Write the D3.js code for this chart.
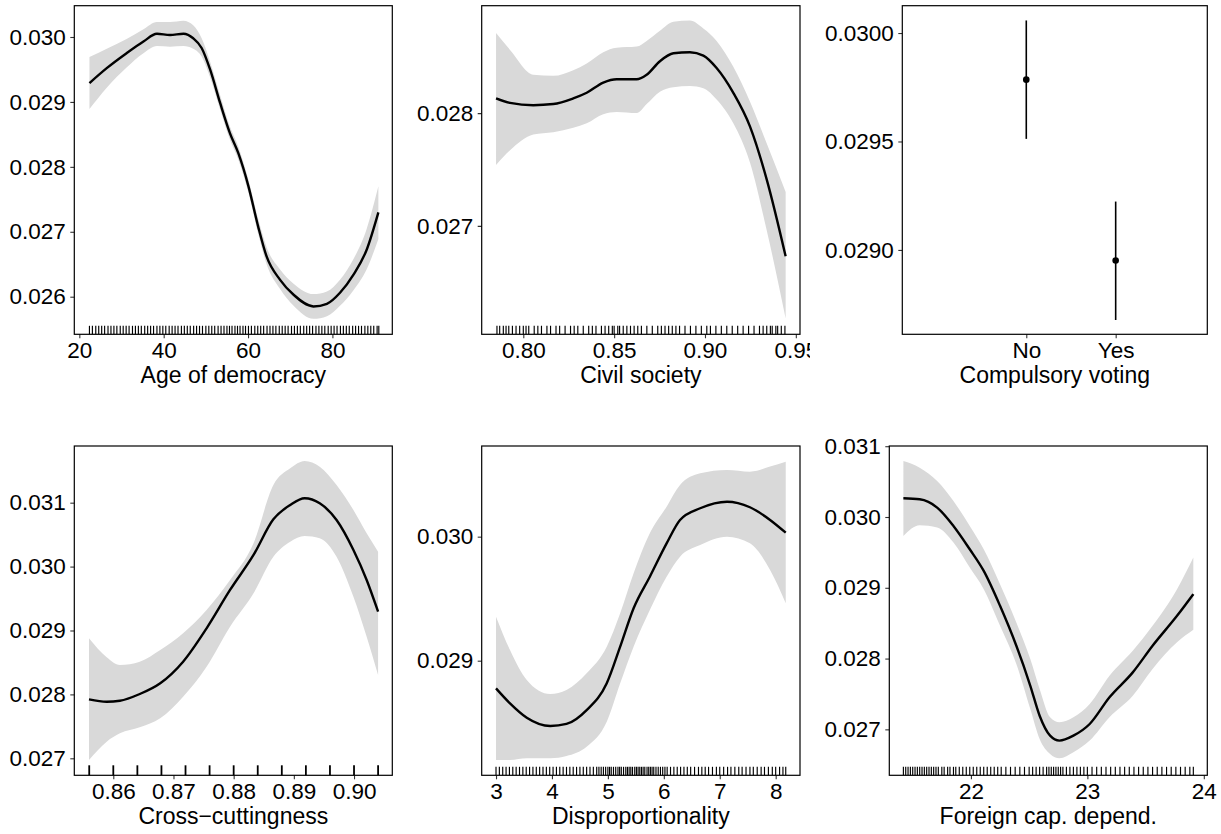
<!DOCTYPE html>
<html>
<head>
<meta charset="utf-8">
<script src="https://cdn.jsdelivr.net/npm/d3@7"></script>
<style>
  body { margin: 0; background: #fff; }
  svg text { font-family: "Liberation Sans", Arial, sans-serif; fill: #000; }
</style>
</head>
<body>
<svg id="chart" width="1221" height="834"></svg>
<script>
// Age of democracy
var ageX   = [22.4, 26.5, 31.2, 35.2, 38.4, 41.5, 44.7, 47.0, 49.0, 51.0, 53.4, 55.7, 57.7, 60.1, 62.4, 64.4, 67.6, 70.8, 75.5, 78.7, 81.8, 85.0, 88.1, 90.9];
var ageFit = [0.02929, 0.02952, 0.02975, 0.02993, 0.03005, 0.03003, 0.03005, 0.02998, 0.02983, 0.02950, 0.02898, 0.02852, 0.02821, 0.02770, 0.02708, 0.02662, 0.02626, 0.02603, 0.02585, 0.02589, 0.02606, 0.02634, 0.02672, 0.02730];
var ageLo  = [0.02889, 0.02922, 0.02953, 0.02975, 0.02986, 0.02985, 0.02986, 0.02982, 0.02970, 0.02938, 0.02888, 0.02842, 0.02811, 0.02760, 0.02697, 0.02650, 0.02612, 0.02586, 0.02566, 0.02570, 0.02586, 0.02610, 0.02642, 0.02689];
var ageHi  = [0.02969, 0.02982, 0.02997, 0.03012, 0.03023, 0.03023, 0.03025, 0.03018, 0.02998, 0.02962, 0.02910, 0.02862, 0.02831, 0.02780, 0.02720, 0.02676, 0.02642, 0.02620, 0.02604, 0.02608, 0.02626, 0.02658, 0.02704, 0.02770];
var ageRug = [22.4,23.1,23.9,24.6,25.3,26.0,26.8,27.5,28.2,28.9,29.7,30.4,31.1,31.8,32.6,33.3,34.0,34.7,35.5,36.2,36.9,37.6,38.4,39.1,39.8,40.5,41.3,42.0,42.7,43.4,44.2,44.9,45.6,46.3,47.1,47.8,48.5,49.2,50.0,50.7,51.4,52.1,52.9,53.6,54.3,55.0,55.6,56.2,56.9,57.5,58.1,58.8,59.4,60.1,60.8,61.6,62.3,63.0,63.7,64.5,65.2,65.9,66.6,67.4,68.1,68.8,69.5,70.3,71.0,71.7,72.4,73.2,73.9,74.6,75.3,76.1,76.8,77.5,78.2,79.0,79.7,80.4,81.1,81.9,82.6,83.3,84.0,84.8,85.5,86.2,86.9,87.7,88.4,89.1,89.8,90.6,91.0];
var ageTicksY = [0.026, 0.027, 0.028, 0.029, 0.030];
var ageTicksX = [20, 40, 60, 80];

// Civil society
var civX   = [0.785, 0.7927, 0.8055, 0.8165, 0.8275, 0.8349, 0.8440, 0.8514, 0.8624, 0.8679, 0.8752, 0.8826, 0.8917, 0.8991, 0.9064, 0.9156, 0.9248, 0.9340, 0.9444];
var civFit = [0.02813, 0.02809, 0.02807, 0.02808, 0.02813, 0.02818, 0.02827, 0.02830, 0.02830, 0.02834, 0.02846, 0.02853, 0.02854, 0.02851, 0.02840, 0.02818, 0.02788, 0.02741, 0.02673];
var civLo  = [0.02754, 0.02767, 0.02781, 0.02783, 0.02787, 0.02791, 0.02799, 0.02801, 0.02800, 0.02808, 0.02819, 0.02823, 0.02824, 0.02822, 0.02812, 0.02791, 0.02756, 0.02696, 0.02618];
var civHi  = [0.02871, 0.02856, 0.02834, 0.02833, 0.02838, 0.02844, 0.02854, 0.02858, 0.02859, 0.02864, 0.02873, 0.02881, 0.02882, 0.02875, 0.02864, 0.02841, 0.02810, 0.02773, 0.02730];
var civRug = [0.7855,0.787,0.789,0.7905,0.792,0.794,0.796,0.798,0.800,0.8015,0.803,0.806,0.808,0.810,0.813,0.815,0.818,0.820,0.823,0.826,0.828,0.830,0.833,0.836,0.838,0.840,0.843,0.845,0.847,0.849,0.850,0.852,0.853,0.855,0.857,0.859,0.861,0.863,0.865,0.868,0.871,0.874,0.876,0.878,0.880,0.882,0.884,0.886,0.889,0.892,0.895,0.898,0.901,0.903,0.906,0.909,0.912,0.915,0.918,0.921,0.924,0.927,0.930,0.932,0.934,0.936,0.937,0.939,0.940,0.942,0.944];
var civTicksY = [0.027, 0.028];
var civTicksX = [0.80, 0.85, 0.90, 0.95];

// Compulsory voting
var cvCats = ["No", "Yes"];
var cvFit  = [0.029785, 0.028951];
var cvLo   = [0.029512, 0.028677];
var cvHi   = [0.030058, 0.029223];
var cvTicksY = [0.0290, 0.0295, 0.0300];

// Cross-cuttingness
var crossX   = [0.85596, 0.8589, 0.8611, 0.8644, 0.8678, 0.8716, 0.8755, 0.8794, 0.8833, 0.8866, 0.8894, 0.8918, 0.8943, 0.8971, 0.8999, 0.9021, 0.9040];
var crossFit = [0.027923, 0.027886, 0.027901, 0.028006, 0.028174, 0.028512, 0.029034, 0.029634, 0.030182, 0.030740, 0.030964, 0.031069, 0.030990, 0.030729, 0.030260, 0.029790, 0.029294];
var crossLo  = [0.026973, 0.027260, 0.027391, 0.027485, 0.027626, 0.027964, 0.028434, 0.029059, 0.029582, 0.030155, 0.030390, 0.030479, 0.030443, 0.030155, 0.029529, 0.028903, 0.028303];
var crossHi  = [0.028878, 0.028581, 0.028460, 0.028512, 0.028695, 0.028956, 0.029321, 0.029790, 0.030365, 0.031277, 0.031538, 0.031653, 0.031563, 0.031277, 0.030886, 0.030521, 0.030233];
var crossRug = [0.856, 0.860, 0.864, 0.868, 0.872, 0.876, 0.880, 0.884, 0.888, 0.892, 0.896, 0.900, 0.904];
var crossTicksY = [0.027, 0.028, 0.029, 0.030, 0.031];
var crossTicksX = [0.86, 0.87, 0.88, 0.89, 0.90];

// Disproportionality
var dispX   = [3.0, 3.25, 3.55, 3.97, 4.26, 4.62, 4.98, 5.22, 5.46, 5.75, 6.05, 6.29, 6.65, 7.13, 7.54, 7.90, 8.18];
var dispFit = [0.028777, 0.028656, 0.028540, 0.028473, 0.028490, 0.028602, 0.028818, 0.029113, 0.029423, 0.029677, 0.029946, 0.030135, 0.030229, 0.030282, 0.030237, 0.030135, 0.030032];
var dispLo  = [0.028199, 0.028199, 0.028213, 0.028213, 0.028231, 0.028306, 0.028508, 0.028818, 0.029113, 0.029409, 0.029677, 0.029839, 0.029933, 0.030000, 0.029946, 0.029731, 0.029463];
var dispHi  = [0.029355, 0.029086, 0.028844, 0.028731, 0.028763, 0.028898, 0.029113, 0.029382, 0.029705, 0.030027, 0.030242, 0.030417, 0.030511, 0.030538, 0.030524, 0.030565, 0.030605];
var dispRug = [3.00,3.06,3.12,3.18,3.24,3.30,3.36,3.42,3.48,3.54,3.60,3.66,3.72,3.78,3.84,3.90,3.96,4.02,4.08,4.14,4.20,4.26,4.32,4.38,4.44,4.50,4.56,4.62,4.68,4.74,4.80,4.84,4.88,4.92,4.96,5.00,5.03,5.06,5.10,5.14,5.18,5.21,5.24,5.28,5.32,5.35,5.38,5.41,5.44,5.48,5.51,5.54,5.57,5.60,5.63,5.66,5.70,5.73,5.76,5.79,5.82,5.86,5.90,5.94,5.98,6.02,6.06,6.12,6.18,6.24,6.30,6.36,6.42,6.48,6.55,6.62,6.68,6.74,6.80,6.87,6.94,7.00,7.07,7.14,7.20,7.27,7.34,7.40,7.47,7.54,7.60,7.67,7.74,7.80,7.87,7.94,8.00,8.07,8.13,8.18];
var dispTicksY = [0.029, 0.030];
var dispTicksX = [3, 4, 5, 6, 7, 8];

// Foreign capital dependence
var fcdX   = [21.42, 21.56, 21.71, 21.85, 21.99, 22.11, 22.25, 22.39, 22.51, 22.59, 22.68, 22.76, 22.88, 23.02, 23.19, 23.39, 23.56, 23.77, 23.91];
var fcdFit = [0.030264, 0.030250, 0.030133, 0.029873, 0.029544, 0.029238, 0.028745, 0.028181, 0.027616, 0.027193, 0.026911, 0.026841, 0.026911, 0.027076, 0.027453, 0.027805, 0.028181, 0.028604, 0.028910];
var fcdLo  = [0.029732, 0.029883, 0.029850, 0.029639, 0.029286, 0.028980, 0.028463, 0.027922, 0.027288, 0.026865, 0.026653, 0.026592, 0.026677, 0.026841, 0.027171, 0.027475, 0.027852, 0.028229, 0.028406];
var fcdHi  = [0.030790, 0.030697, 0.030508, 0.030226, 0.029873, 0.029544, 0.029051, 0.028511, 0.027993, 0.027570, 0.027171, 0.027100, 0.027171, 0.027358, 0.027757, 0.028110, 0.028463, 0.028980, 0.029427];
var fcdRug = [21.42,21.44,21.46,21.48,21.50,21.52,21.54,21.56,21.58,21.60,21.62,21.64,21.66,21.68,21.70,21.72,21.75,21.77,21.80,21.82,21.85,21.87,21.90,21.93,21.96,21.99,22.02,22.05,22.08,22.11,22.14,22.17,22.20,22.23,22.26,22.30,22.34,22.38,22.42,22.46,22.50,22.53,22.56,22.59,22.62,22.65,22.67,22.69,22.71,22.73,22.75,22.77,22.79,22.82,22.85,22.88,22.91,22.94,22.97,23.00,23.04,23.08,23.12,23.16,23.20,23.24,23.28,23.32,23.36,23.40,23.44,23.48,23.52,23.56,23.60,23.64,23.68,23.72,23.76,23.80,23.84,23.88,23.91];
var fcdTicksY = [0.027, 0.028, 0.029, 0.030, 0.031];
var fcdTicksX = [22, 23, 24];

var svg = d3.select("#chart");
var FONT_TICK = 22.5, FONT_TITLE = 23;

function frame(p, x, y, g) {
    // y axis
    var ya = g.append("g")
        .attr("transform", "translate(" + p.left + ",0)")
        .call(d3.axisLeft(y).tickValues(p.yTicks).tickSize(4).tickPadding(4.5).tickFormat(d3.format(p.yFmt)));
    ya.select(".domain").remove();
    ya.selectAll("line").attr("stroke", "#333").attr("stroke-width", 1.1);
    ya.selectAll("text").style("font-size", FONT_TICK + "px").attr("fill", "#000");

    // x axis
    var xa = g.append("g")
        .attr("transform", "translate(0," + p.bottom + ")")
        .call(d3.axisBottom(x).tickValues(p.xTicks).tickSize(4).tickPadding(4).tickFormat(p.xFmt));
    xa.select(".domain").remove();
    xa.selectAll("line").attr("stroke", "#333").attr("stroke-width", 1.1);
    xa.selectAll("text").style("font-size", FONT_TICK + "px").attr("fill", "#000");

    g.append("rect")
        .attr("x", p.left).attr("y", p.top)
        .attr("width", p.right - p.left).attr("height", p.bottom - p.top)
        .attr("fill", "none").attr("stroke", "#000").attr("stroke-width", 1.2);

    g.append("text")
        .attr("x", (p.left + p.right) / 2)
        .attr("y", p.bottom + 48.8)
        .attr("text-anchor", "middle")
        .style("font-size", FONT_TITLE + "px")
        .text(p.title);
}

function smoothPanel(p) {
    var g = svg.append("g");
    if (p.clipRight) {
        var cid = "clip-" + p.id;
        svg.append("clipPath").attr("id", cid).append("rect")
            .attr("x", p.left - 90).attr("y", p.top - 10)
            .attr("width", p.clipRight - p.left + 90).attr("height", p.bottom - p.top + 80);
        g.attr("clip-path", "url(#" + cid + ")");
    }
    var x = d3.scaleLinear().domain(p.xDom).range([p.left, p.right]);
    var y = d3.scaleLinear().domain(p.yDom).range([p.bottom, p.top]);
    var rows = p.xs.map(function (v, i) {
        return {x: v, fit: p.fit[i], lo: p.lo[i], hi: p.hi[i]};
    });

    var band = d3.area().curve(d3.curveMonotoneX)
        .x(function (d) { return x(d.x); })
        .y0(function (d) { return y(d.lo); })
        .y1(function (d) { return y(d.hi); });
    var line = d3.line().curve(d3.curveMonotoneX)
        .x(function (d) { return x(d.x); })
        .y(function (d) { return y(d.fit); });

    g.append("path").datum(rows).attr("d", band).attr("fill", "#d9d9d9");
    g.append("path").datum(rows).attr("d", line)
        .attr("fill", "none").attr("stroke", "#000").attr("stroke-width", 2.4);

    g.selectAll(".rug").data(p.rug).enter().append("line")
        .attr("class", "rug")
        .attr("x1", function (d) { return x(d); })
        .attr("x2", function (d) { return x(d); })
        .attr("y1", p.bottom - p.rugLen)
        .attr("y2", p.bottom)
        .attr("stroke", "#000")
        .attr("stroke-width", p.rugW);

    frame(p, x, y, g);
}

function factorPanel(p) {
    var g = svg.append("g");
    var x = d3.scaleLinear().domain(p.xDom).range([p.left, p.right]);
    var y = d3.scaleLinear().domain(p.yDom).range([p.bottom, p.top]);
    var rows = p.cats.map(function (c, i) {
        return {cat: c, pos: i + 1, fit: p.fit[i], lo: p.lo[i], hi: p.hi[i]};
    });
    g.selectAll(".err").data(rows).enter().append("line")
        .attr("x1", function (d) { return x(d.pos); })
        .attr("x2", function (d) { return x(d.pos); })
        .attr("y1", function (d) { return y(d.lo); })
        .attr("y2", function (d) { return y(d.hi); })
        .attr("stroke", "#000").attr("stroke-width", 1.6);
    g.selectAll(".pt").data(rows).enter().append("circle")
        .attr("cx", function (d) { return x(d.pos); })
        .attr("cy", function (d) { return y(d.fit); })
        .attr("r", 3.3).attr("fill", "#000");
    p.xTicks = rows.map(function (d) { return d.pos; });
    p.xFmt = function (v) { return p.cats[v - 1]; };
    frame(p, x, y, g);
}

var row1 = {top: 5.7, bottom: 334.3};
var row2 = {top: 446, bottom: 775.3};

smoothPanel({
    id: "age", title: "Age of democracy",
    left: 74.3, right: 392.3, top: row1.top, bottom: row1.bottom,
    xDom: [18.81, 94.2], yDom: [0.025421, 0.030482],
    xs: ageX, fit: ageFit, lo: ageLo, hi: ageHi, rug: ageRug,
    rugLen: 8.5, rugW: 1.15,
    yTicks: ageTicksY, yFmt: ".3f", xTicks: ageTicksX, xFmt: d3.format("d")
});

smoothPanel({
    id: "civ", title: "Civil society",
    left: 481.7, right: 800, top: row1.top, bottom: row1.bottom, clipRight: 810,
    xDom: [0.7771, 0.9523], yDom: [0.026039, 0.028952],
    xs: civX, fit: civFit, lo: civLo, hi: civHi, rug: civRug,
    rugLen: 8.5, rugW: 1.15,
    yTicks: civTicksY, yFmt: ".3f", xTicks: civTicksX, xFmt: d3.format(".2f")
});

factorPanel({
    id: "cv", title: "Compulsory voting",
    left: 902.3, right: 1207.3, top: row1.top, bottom: row1.bottom,
    xDom: [-0.387, 3.025], yDom: [0.028611, 0.030126],
    cats: cvCats, fit: cvFit, lo: cvLo, hi: cvHi,
    yTicks: cvTicksY, yFmt: ".4f"
});

smoothPanel({
    id: "cross", title: "Cross\u2212cuttingness",
    left: 74.3, right: 392.3, top: row2.top, bottom: row2.bottom,
    xDom: [0.85352, 0.90636], yDom: [0.026734, 0.031887],
    xs: crossX, fit: crossFit, lo: crossLo, hi: crossHi, rug: crossRug,
    rugLen: 10, rugW: 1.8,
    yTicks: crossTicksY, yFmt: ".3f", xTicks: crossTicksX, xFmt: d3.format(".2f")
});

smoothPanel({
    id: "disp", title: "Disproportionality",
    left: 481.7, right: 800, top: row2.top, bottom: row2.bottom,
    xDom: [2.744, 8.435], yDom: [0.028076, 0.030731],
    xs: dispX, fit: dispFit, lo: dispLo, hi: dispHi, rug: dispRug,
    rugLen: 8.5, rugW: 1.15,
    yTicks: dispTicksY, yFmt: ".3f", xTicks: dispTicksX, xFmt: d3.format("d")
});

smoothPanel({
    id: "fcd", title: "Foreign cap. depend.",
    left: 889.3, right: 1207.3, top: row2.top, bottom: row2.bottom,
    xDom: [21.299, 24.03], yDom: [0.026351, 0.031003],
    xs: fcdX, fit: fcdFit, lo: fcdLo, hi: fcdHi, rug: fcdRug,
    rugLen: 8.5, rugW: 1.15,
    yTicks: fcdTicksY, yFmt: ".3f", xTicks: fcdTicksX, xFmt: d3.format("d")
});
</script>
</body>
</html>
